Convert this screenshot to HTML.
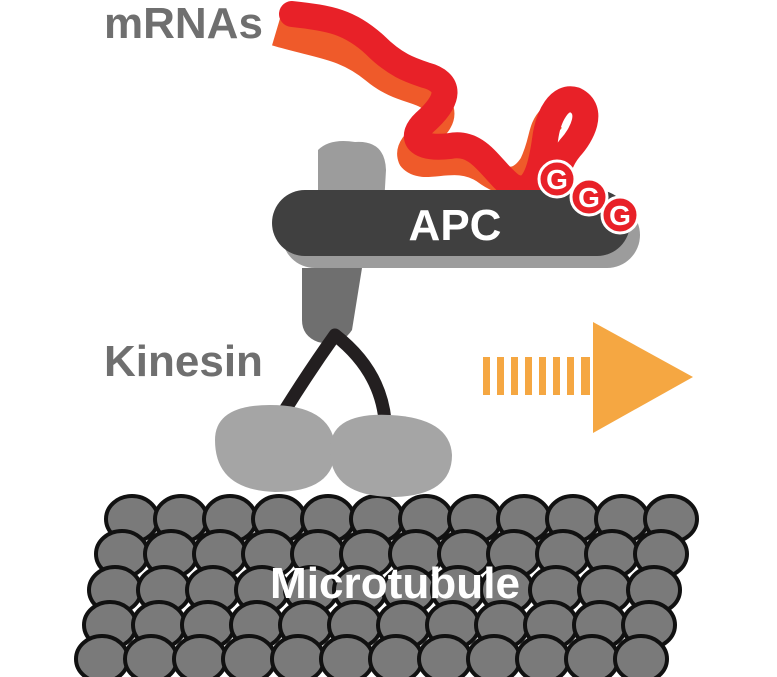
<!DOCTYPE html>
<html><head><style>body{margin:0;background:#fff}svg{display:block}</style></head><body>
<svg width="777" height="677" viewBox="0 0 777 677" xmlns="http://www.w3.org/2000/svg" font-family="Liberation Sans, Arial, sans-serif" font-weight="bold">
<path d="M318,150 Q330,138 355,142 Q385,140 386,170 L384,205 L318,205 Z" fill="#9c9c9c"/>
<path d="M276,32 C320,45 345,45 375,70 C405,95 430,85 440,110 C445,130 405,140 412,158 C425,172 455,150 485,170 C505,185 520,185 533,165 C545,140 540,130 552,118" fill="none" stroke="#ef5a2a" stroke-width="28" stroke-linejoin="round"/>
<path d="M292,14 C330,18 350,22 375,45 C395,65 410,70 425,75 C452,82 450,100 425,122 C408,138 418,150 450,146 C480,140 492,172 512,186 C532,196 540,175 545,140 C548,115 560,95 575,100 C595,110 582,135 570,148 C560,160 555,175 560,185" fill="none" stroke="#e82128" stroke-width="26" stroke-linejoin="round" stroke-linecap="round"/>
<rect x="282" y="202" width="358" height="66" rx="33" fill="#9c9c9c"/>
<rect x="272" y="190" width="358" height="66" rx="33" fill="#404040"/>
<text x="455" y="240" font-size="44" fill="#fff" text-anchor="middle">APC</text>
<g fill="#e82128" stroke="#fff" stroke-width="3">
<circle cx="557" cy="179" r="18"/><circle cx="589" cy="197" r="18"/><circle cx="620" cy="215" r="18"/>
</g>
<g font-size="28" fill="#fff" text-anchor="middle">
<text x="557" y="189">G</text><text x="589" y="207">G</text><text x="620" y="225">G</text>
</g>
<path d="M302,268 L362,268 L352,330 Q340,348 318,342 Q302,336 302,320 Z" fill="#6f6f6f"/>
<path d="M335,335 Q310,370 285,410 M335,335 Q380,370 385,420" fill="none" stroke="#231f20" stroke-width="13" stroke-linecap="round"/>
<text x="104" y="38" font-size="44" fill="#6f6f6f">mRNAs</text>
<text x="104" y="376" font-size="44" fill="#6f6f6f">Kinesin</text>
<g fill="#f5a742">
<rect x="483" y="357" width="7" height="38"/><rect x="497" y="357" width="7" height="38"/><rect x="511" y="357" width="7" height="38"/><rect x="525" y="357" width="7" height="38"/><rect x="539" y="357" width="7" height="38"/><rect x="553" y="357" width="7" height="38"/><rect x="567" y="357" width="7" height="38"/><rect x="581" y="357" width="9" height="38"/>
<polygon points="593,322 693,377 593,433"/>
</g>
<defs><ellipse id="e" rx="26" ry="23" fill="#7a7a7a" stroke="#111" stroke-width="4"/></defs>
<g id="r1"><use href="#e" x="132" y="519"/><use href="#e" x="181" y="519"/><use href="#e" x="230" y="519"/><use href="#e" x="279" y="519"/><use href="#e" x="328" y="519"/><use href="#e" x="377" y="519"/><use href="#e" x="426" y="519"/><use href="#e" x="475" y="519"/><use href="#e" x="524" y="519"/><use href="#e" x="573" y="519"/><use href="#e" x="622" y="519"/><use href="#e" x="671" y="519"/></g>
<use href="#r1" x="-10" y="35"/>
<use href="#r1" x="-17" y="71"/>
<use href="#r1" x="-22" y="106"/>
<use href="#r1" x="-30" y="140"/>
<path d="M215,440 Q215,405 270,405 Q330,405 335,445 Q338,492 275,492 Q215,490 215,440 Z" fill="#a5a5a5"/>
<path d="M330,450 Q330,412 390,415 Q450,418 452,455 Q452,495 395,497 Q330,497 330,450 Z" fill="#a5a5a5"/>
<text x="395" y="598" font-size="44" fill="#fff" text-anchor="middle" textLength="250" lengthAdjust="spacingAndGlyphs">Microtubule</text>
</svg>
</body></html>
